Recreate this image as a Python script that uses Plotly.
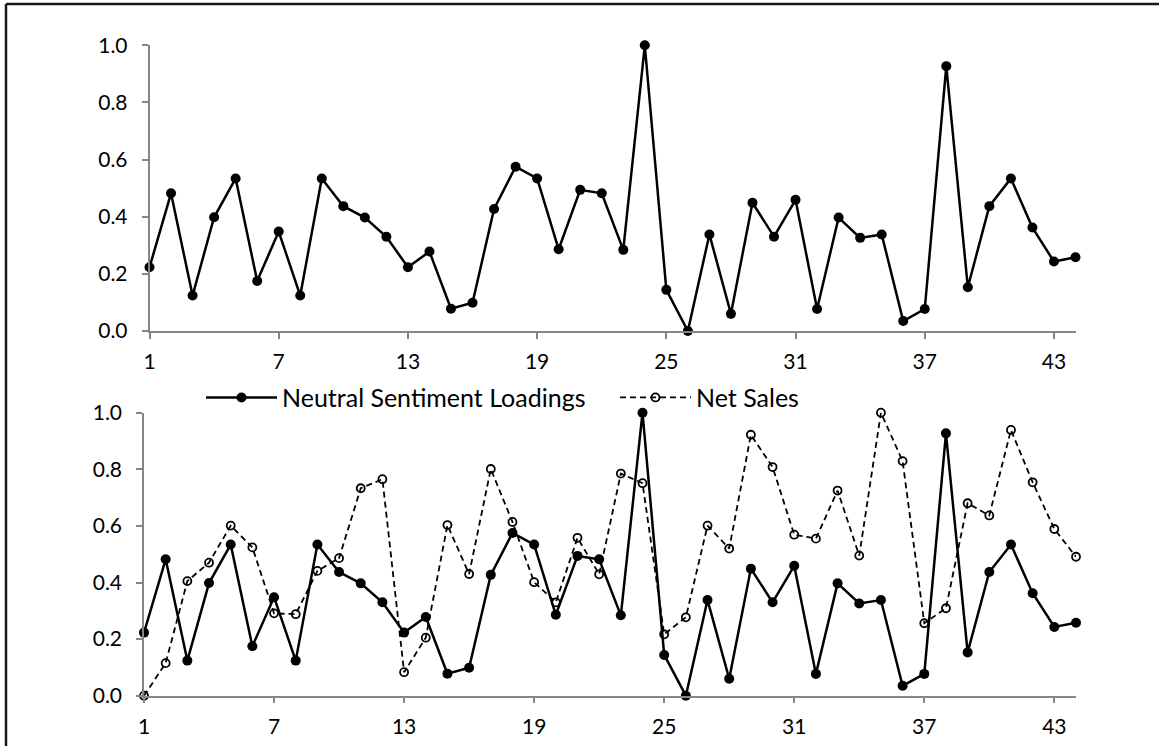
import plotly.graph_objects as go

# Period index (1..44)
periods = list(range(1, 45))

# Neutral sentiment loadings (normalised 0..1)
neutral = [0.223, 0.482, 0.124, 0.398, 0.534, 0.175, 0.348, 0.124, 0.534, 0.437,
           0.397, 0.330, 0.223, 0.278, 0.078, 0.099, 0.427, 0.575, 0.534, 0.286,
           0.494, 0.482, 0.284, 1.000, 0.144, 0.000, 0.338, 0.060, 0.449, 0.330,
           0.459, 0.077, 0.397, 0.326, 0.338, 0.035, 0.077, 0.927, 0.153, 0.437,
           0.534, 0.362, 0.243, 0.258]

# Net sales (normalised 0..1)
net_sales = [0.000, 0.115, 0.405, 0.470, 0.601, 0.524, 0.291, 0.288, 0.441, 0.486,
             0.733, 0.765, 0.083, 0.205, 0.603, 0.430, 0.801, 0.614, 0.401, 0.330,
             0.558, 0.429, 0.785, 0.751, 0.217, 0.277, 0.601, 0.520, 0.922, 0.808,
             0.569, 0.555, 0.725, 0.495, 1.000, 0.829, 0.256, 0.309, 0.680, 0.637,
             0.939, 0.754, 0.589, 0.491]

x_ticks = [1, 7, 13, 19, 25, 31, 37, 43]
y_ticks = [0.0, 0.2, 0.4, 0.6, 0.8, 1.0]
y_tick_text = ["0.0", "0.2", "0.4", "0.6", "0.8", "1.0"]

W, H = 1159, 746
FONT = "Lato"
AXIS_GREY = "#868686"

neutral_style = dict(
    mode="lines+markers",
    line=dict(color="black", width=2.5),
    marker=dict(symbol="circle", size=10, color="black"),
    cliponaxis=False,
)
sales_style = dict(
    mode="lines+markers",
    line=dict(color="black", width=1.8, dash="6px,4px"),
    marker=dict(symbol="circle-open", size=8, color="black", line=dict(width=1.8)),
    cliponaxis=False,
)

fig = go.Figure()
# upper panel: loadings alone
fig.add_trace(go.Scatter(x=periods, y=neutral, xaxis="x", yaxis="y",
                         name="Neutral Sentiment Loadings", showlegend=False,
                         **neutral_style))
# lower panel: loadings against net sales
fig.add_trace(go.Scatter(x=periods, y=neutral, xaxis="x2", yaxis="y2",
                         name="Neutral Sentiment Loadings", showlegend=True,
                         **neutral_style))
fig.add_trace(go.Scatter(x=periods, y=net_sales, xaxis="x2", yaxis="y2",
                         name="Net Sales", showlegend=True, **sales_style))


def px_x(p):
    return p / W


def px_y(p):
    return (H - p) / H


common_x = dict(
    range=[1, 44], tickvals=x_ticks, ticktext=[str(v) for v in x_ticks],
    showgrid=False, zeroline=False, showline=True, linecolor=AXIS_GREY,
    linewidth=1.5, ticks="outside", ticklen=6, tickwidth=1.5, tickcolor=AXIS_GREY,
    tickfont=dict(family=FONT, size=21, color="black"), ticklabelstandoff=5,
    automargin=False,
)
common_y = dict(
    range=[0, 1], tickvals=y_ticks, ticktext=y_tick_text,
    showgrid=False, zeroline=False, showline=True, linecolor=AXIS_GREY,
    linewidth=1.5, ticks="outside", ticklen=6, tickwidth=1.5, tickcolor=AXIS_GREY,
    tickfont=dict(family=FONT, size=21, color="black"), ticklabelstandoff=10,
    automargin=False,
)

border = dict(color="#1a1a1a", width=2.5)

fig.update_layout(
    width=W, height=H,
    margin=dict(l=0, r=0, t=0, b=0, pad=0, autoexpand=False),
    paper_bgcolor="white", plot_bgcolor="white",
    font=dict(family=FONT, color="black"),
    xaxis=dict(domain=[px_x(149.5), px_x(1075.5)], anchor="y", **common_x),
    yaxis=dict(domain=[px_y(331), px_y(45.3)], anchor="x", **common_y),
    xaxis2=dict(domain=[px_x(144), px_x(1076)], anchor="y2", **common_x),
    yaxis2=dict(domain=[px_y(695.7), px_y(412.7)], anchor="x2", **common_y),
    legend=dict(
        orientation="h", x=px_x(201), y=px_y(397.7), xanchor="left", yanchor="middle",
        itemwidth=71, entrywidth=328, font=dict(family=FONT, size=25, color="black"),
        bgcolor="rgba(0,0,0,0)", itemclick=False, itemdoubleclick=False,
    ),
    shapes=[
        # frame around the figure (top and left edges fall inside the page)
        dict(type="line", xref="paper", yref="paper",
             x0=px_x(6), y0=px_y(4), x1=1.0, y1=px_y(4), line=border),
        dict(type="line", xref="paper", yref="paper",
             x0=px_x(6), y0=px_y(4), x1=px_x(6), y1=0.0, line=border),
    ],
    showlegend=True,
)

fig.write_html(
    "out.html",
    post_script="document.documentElement.style.overflow='hidden';"
                "document.body.style.overflow='hidden';document.body.style.margin='0';",
)
